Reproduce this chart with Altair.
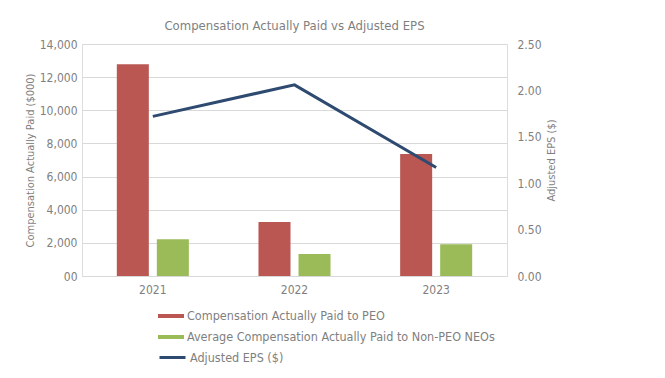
import altair as alt
import pandas as pd

years = ["2021", "2022", "2023"]
cap_peo = [12780, 3260, 7360]
cap_neo = [2215, 1330, 1910]
eps = [1.72, 2.06, 1.17]
series = ["Compensation Actually Paid to PEO", "Average Compensation Actually Paid to Non-PEO NEOs"]
line_name = "Adjusted EPS ($)"

bars = pd.DataFrame({
    "year": years * 2,
    "series": [series[0]] * 3 + [series[1]] * 3,
    "value": cap_peo + cap_neo,
})
line = pd.DataFrame({"year": years, "eps": eps, "s": [line_name] * 3})

FONT = "Liberation Sans Narrow, DejaVu Sans Condensed, Roboto Condensed, sans-serif"
GREY = "#7f7f7f"
RED = "#BA5752"
GREEN = "#9BBB59"
NAVY = "#2E4A70"

xscale = alt.Scale(paddingInner=0.435, paddingOuter=0.2175)
xaxis = alt.Axis(title=None, labelAngle=0, domain=True, domainColor="#d9d9d9", ticks=False,
                 labelPadding=8, labelColor=GREY, labelFontSize=12, labelFont=FONT, grid=False)

bar_chart = alt.Chart(bars).mark_bar().encode(
    x=alt.X("year:N", scale=xscale, axis=xaxis, sort=years),
    xOffset=alt.XOffset("series:N", sort=series, scale=alt.Scale(paddingInner=0.2, paddingOuter=0.1)),
    y=alt.Y("value:Q", scale=alt.Scale(domain=[0, 14000]),
            axis=alt.Axis(title="Compensation Actually Paid ($000)", values=list(range(0, 14001, 2000)),
                          format=",.0f",
                          labelExpr="datum.label == '0' ? '00' : datum.label",
                          domain=False, ticks=False, labelPadding=5, grid=True, gridColor="#d9d9d9",
                          labelColor=GREY, labelFontSize=12, labelFont=FONT,
                          titleColor=GREY, titleFontSize=11, titleFont=FONT, titleFontWeight="normal",
                          titlePadding=4)),
    color=alt.Color("series:N", sort=series,
                    scale=alt.Scale(domain=series, range=[RED, GREEN]),
                    legend=alt.Legend(title=None, orient="none", legendX=79, legendY=262,
                                      symbolType="M-1.3,-0.2L1.3,-0.2L1.3,0.2L-1.3,0.2Z", symbolSize=400,
                                      symbolStrokeWidth=0, labelFont=FONT, labelFontSize=12.5,
                                      labelColor=GREY, rowPadding=4, labelOffset=6, labelLimit=500)),
)

line_chart = alt.Chart(line).mark_line(strokeWidth=3).encode(
    x=alt.X("year:N", scale=xscale, sort=years, axis=xaxis),
    y=alt.Y("eps:Q", scale=alt.Scale(domain=[0, 2.5]),
            axis=alt.Axis(title="Adjusted EPS ($)", orient="right", values=[0, 0.5, 1, 1.5, 2, 2.5],
                          format=".2f", domain=False, ticks=False, labelPadding=10, grid=False,
                          labelColor=GREY, labelFontSize=12, labelFont=FONT,
                          titleColor=GREY, titleFontSize=11, titleFont=FONT, titleFontWeight="normal",
                          titleAngle=270, titlePadding=15)),
    stroke=alt.Stroke("s:N", scale=alt.Scale(domain=[line_name], range=[NAVY]),
                      legend=alt.Legend(title=None, orient="none", legendX=79, legendY=302,
                                        symbolType="M-1.3,0L1.3,0", symbolSize=400, symbolStrokeWidth=3,
                                        labelFont=FONT, labelFontSize=12.5, labelColor=GREY,
                                        labelOffset=6, labelLimit=500)),
)

chart = alt.layer(bar_chart, line_chart).resolve_scale(
    y="independent", color="independent", stroke="independent"
).properties(
    width=425, height=232,
    title=alt.TitleParams("Compensation Actually Paid vs Adjusted EPS", anchor="middle", frame="group",
                          font=FONT, fontSize=13, fontWeight="normal", color=GREY, offset=5),
    autosize=alt.AutoSizeParams(type="none"),
    padding={"left": 74, "top": 36, "right": 148, "bottom": 92},
).configure_view(stroke=None).configure(background="white")

chart.save("out.html", embed_options={"renderer": "svg", "actions": False})
